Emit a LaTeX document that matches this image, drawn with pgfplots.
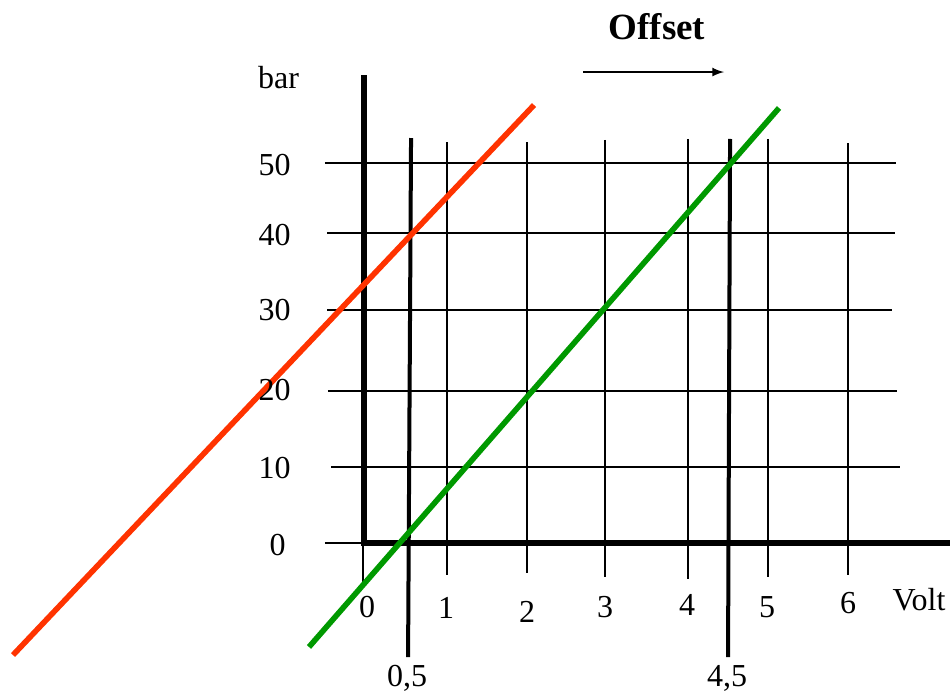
\documentclass[border=0pt]{standalone}
\usepackage{fontspec}
\setmainfont{Liberation Serif}
\usepackage{pgfplots}
\pgfplotsset{compat=1.18}
\definecolor{myred}{HTML}{FF3300}
\definecolor{mygreen}{HTML}{009900}
\begin{document}
\begin{tikzpicture}
\begin{axis}[scale only axis, width=475pt, height=345.5pt,
  xmin=-4.505, xmax=7.252, ymin=-19.47, ymax=71.45,
  axis lines=none, clip=false, xtick=\empty, ytick=\empty]
% horizontal grid lines
\addplot[black, line width=1pt] coordinates {(-0.483,0) (0,0)};
\addplot[black, line width=1pt] coordinates {(-0.408,10) (6.634,10)};
\addplot[black, line width=1pt] coordinates {(-0.446,20) (6.597,20)};
\addplot[black, line width=1pt] coordinates {(-0.458,30.66) (6.535,30.66)};
\addplot[black, line width=1pt] coordinates {(-0.458,40.79) (6.572,40.79)};
\addplot[black, line width=1pt] coordinates {(-0.483,50) (6.584,50)};
% vertical grid lines
\addplot[black, line width=1pt] coordinates {(-0.01,0) (-0.01,-5.13)};
\addplot[black, line width=1pt] coordinates {(1.027,52.76) (1.027,-4.21)};
\addplot[black, line width=1pt] coordinates {(2.017,52.76) (2.017,-3.95)};
\addplot[black, line width=1pt] coordinates {(2.983,53.03) (2.983,-4.47)};
\addplot[black, line width=1pt] coordinates {(4.010,53.16) (4.010,-4.74)};
\addplot[black, line width=1pt] coordinates {(5.0,53.16) (5.0,-4.47)};
\addplot[black, line width=1pt] coordinates {(5.990,52.63) (5.990,-4.21)};
% thick offset lines
\addplot[black, line width=2pt] coordinates {(0.582,53.29) (0.545,-15.0)};
\addplot[black, line width=2pt] coordinates {(4.530,53.16) (4.505,-15.0)};
% axes
\addplot[black, line width=3pt] coordinates {(0,61.58) (0,0) (7.252,0)};
% characteristic lines
\addplot[myred, line width=2.8pt] coordinates {(-4.344,-14.74) (2.104,57.63)};
\addplot[mygreen, line width=2.8pt] coordinates {(-0.681,-13.68) (5.136,57.24)};
% offset arrow
\addplot[black, line width=1pt, -latex] coordinates {(2.71,61.97) (4.455,61.97)};
% labels
\begin{scope}[font=\fontsize{16pt}{18pt}\selectfont, inner sep=0pt]
\node[anchor=east] at (axis cs:-0.903,49.74) {50};
\node[anchor=east] at (axis cs:-0.903,40.5) {40};
\node[anchor=east] at (axis cs:-0.903,30.66) {30};
\node[anchor=east] at (axis cs:-0.903,20.1) {20};
\node[anchor=east] at (axis cs:-0.903,9.9) {10};
\node[anchor=east] at (axis cs:-0.965,-0.26) {0};
\node at (axis cs:0.037,-8.4) {0};
\node at (axis cs:1.015,-8.55) {1};
\node at (axis cs:2.017,-9.08) {2};
\node at (axis cs:2.983,-8.42) {3};
\node at (axis cs:3.998,-8.16) {4};
\node at (axis cs:4.988,-8.42) {5};
\node at (axis cs:5.99,-7.89) {6};
\node at (axis cs:0.532,-17.76) {0,5};
\node at (axis cs:4.493,-17.76) {4,5};
\node at (axis cs:6.869,-7.5) {Volt};
\node at (axis cs:-1.058,61.3) {bar};
\end{scope}
\node[inner sep=0pt, font=\fontsize{18.5pt}{21pt}\selectfont\bfseries] at (axis cs:3.626,67.89) {Offset};
\coordinate (BL) at (rel axis cs:0,0);
\coordinate (TR) at (rel axis cs:1,1);
\end{axis}
\pgfresetboundingbox
\useasboundingbox (BL) rectangle (TR);
\end{tikzpicture}
\end{document}
